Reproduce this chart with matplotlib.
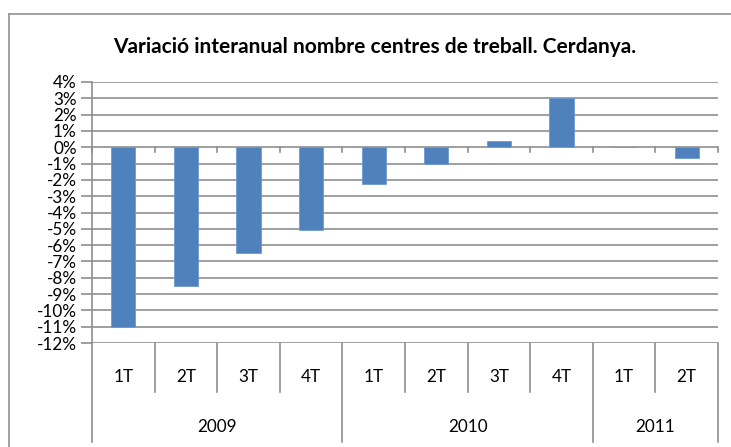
import matplotlib
matplotlib.use("Agg")
import matplotlib.pyplot as plt
from matplotlib.lines import Line2D
from matplotlib.transforms import blended_transform_factory

quarters = ["1T", "2T", "3T", "4T", "1T", "2T", "3T", "4T", "1T", "2T"]
years = ["2009", "2010", "2011"]
year_sizes = [4, 4, 2]
values = [-11.0, -8.5, -6.5, -5.1, -2.25, -1.05, 0.4, 3.0, 0.0, -0.68]
yticks = list(range(-12, 5))

W, H = 731, 447
fig = plt.figure(figsize=(W / 100, H / 100), dpi=100)
plt.rcParams['font.family'] = ['Lato', 'DejaVu Sans']

def fx(px):
    return px / W

def fy(py):
    return (H - py) / H

left, right, top, bottom = 92, 718, 82, 343
ax = fig.add_axes([fx(left), fy(bottom), fx(right - left), (bottom - top) / H])

grid_c = "#8f8f8f"
bar_c = "#4F81BD"

n = len(values)
x = list(range(n))
ax.bar(x, values, width=0.385, color=bar_c, edgecolor="#6f9ad0", linewidth=0.6, zorder=3)
ax.set_xlim(-0.5, n - 0.5)
ax.set_ylim(-12, 4)
ax.set_yticks(yticks)
ax.set_yticklabels([f"{t}%" for t in yticks], fontsize=12.3)
ax.yaxis.grid(True, color=grid_c, linewidth=1.2, zorder=0)
ax.set_xticks([])
for s in ["top", "right", "bottom"]:
    ax.spines[s].set_visible(False)
ax.spines["left"].set_color(grid_c)
ax.spines["left"].set_linewidth(1.2)
ax.tick_params(axis="y", length=8, width=1.2, color=grid_c, pad=3)

# zero-line tick marks at category boundaries
tick_len = 5 / ((bottom - top) / 16)
for b in range(n + 1):
    ax.add_line(Line2D([b - 0.5, b - 0.5], [0, -tick_len], color=grid_c, lw=1.2, zorder=2, clip_on=False))

# multi-level category axis below plot
tr = blended_transform_factory(ax.transData, fig.transFigure)
inner_bot, outer_bot = 392, 442
bounds_outer = [0]
for s in year_sizes:
    bounds_outer.append(bounds_outer[-1] + s)
for b in range(n + 1):
    yb = outer_bot if b in bounds_outer else inner_bot
    fig.add_artist(Line2D([b - 0.5, b - 0.5], [fy(bottom), fy(yb)], transform=tr, color=grid_c, lw=1.2))
for i, q in enumerate(quarters):
    fig.text(i, fy(377), q, transform=tr, ha="center", va="center", fontsize=12.3)
for j, yr in enumerate(years):
    c = (bounds_outer[j] + bounds_outer[j + 1] - 1) / 2
    fig.text(c, fy(427), yr, transform=tr, ha="center", va="center", fontsize=12.3)

# title
fig.text(fx(375), fy(47), "Variació interanual nombre centres de treball. Cerdanya.",
         ha="center", va="center", fontsize=15, fontweight="bold")

# chart frame
frame_c = "#9a9a9a"
fig.add_artist(Line2D([fx(9), fx(731)], [fy(14), fy(14)], color=frame_c, lw=1.3))
fig.add_artist(Line2D([fx(9), fx(9)], [fy(14), fy(447)], color=frame_c, lw=1.3))

fig.savefig("out.png", dpi=100)
